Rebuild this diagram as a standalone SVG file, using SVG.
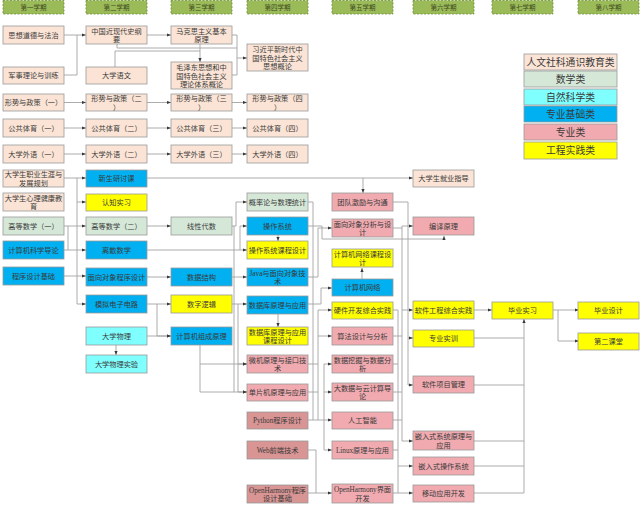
<svg xmlns="http://www.w3.org/2000/svg" width="640" height="505" viewBox="0 0 640 505">
<style>
text{font-family:"Liberation Serif","Noto Sans CJK SC",serif;fill:#3a3a3a;text-anchor:middle}
.n rect{stroke:#9a9a9a;stroke-width:0.8}
.n text{font-size:7.2px}
.hd rect{fill:#9bbb59;stroke:#6f8f3a;stroke-width:0.8;stroke-dasharray:2 1.5}
.hd text{font-size:6.5px;fill:#3d4a1e}
.lg rect{stroke:#9a9a9a;stroke-width:0.8}
.lg text{font-size:9.8px}
.pe{fill:#fbe4d5}.ma{fill:#d5e8d8}.cy{fill:#80ffff}.bl{fill:#00b0f0}.pk{fill:#f0aab0}.ro{fill:#d99594}.ye{fill:#ffff00}
#conn path{fill:none;stroke:#a3a3a3;stroke-width:0.9}
#conn path.a{marker-end:url(#ar)}
</style>
<defs>
<marker id="ar" markerWidth="4" markerHeight="4" refX="4" refY="2" orient="auto" markerUnits="userSpaceOnUse"><path d="M0,0.4 L4,2 L0,3.6 z" fill="#3a3a3a"/></marker>
</defs>
<rect width="640" height="505" fill="#ffffff"/>

<g id="headers" class="hd">
<g id="h1"><rect x="3" y="0.5" width="61" height="13.5"/><text x="33.5" y="9.5">第一学期</text></g>
<g id="h2"><rect x="86" y="0.5" width="61" height="13.5"/><text x="116.5" y="9.5">第二学期</text></g>
<g id="h3"><rect x="171" y="0.5" width="61" height="13.5"/><text x="201.5" y="9.5">第三学期</text></g>
<g id="h4"><rect x="247" y="0.5" width="61" height="13.5"/><text x="277.5" y="9.5">第四学期</text></g>
<g id="h5"><rect x="332" y="0.5" width="61" height="13.5"/><text x="362.5" y="9.5">第五学期</text></g>
<g id="h6"><rect x="413" y="0.5" width="61" height="13.5"/><text x="443.5" y="9.5">第六学期</text></g>
<g id="h7"><rect x="492" y="0.5" width="61" height="13.5"/><text x="522.5" y="9.5">第七学期</text></g>
<g id="h8"><rect x="578" y="0.5" width="61" height="13.5"/><text x="608.5" y="9.5">第八学期</text></g>
</g>

<g id="legend" class="lg">
<g id="lg1"><rect x="524" y="54" width="93" height="16" class="pe"/><text x="570.5" y="65.5">人文社科通识教育类</text></g>
<g id="lg2"><rect x="524" y="71" width="93" height="16" class="ma"/><text x="570.5" y="82.5">数学类</text></g>
<g id="lg3"><rect x="524" y="89" width="93" height="16" class="cy"/><text x="570.5" y="100.5">自然科学类</text></g>
<g id="lg4"><rect x="524" y="106" width="93" height="16" class="bl"/><text x="570.5" y="117.5">专业基础类</text></g>
<g id="lg5"><rect x="524" y="124" width="93" height="16" class="pk"/><text x="570.5" y="135.5">专业类</text></g>
<g id="lg6"><rect x="524" y="142" width="93" height="17" class="ye"/><text x="570.5" y="154">工程实践类</text></g>
</g>

<g id="conn">
<path class="a" d="M64,35 H86"/>
<path d="M64,75 H77 V35"/>
<path class="a" d="M146,35 H171"/>
<path d="M117,44 V48 H237"/>
<path d="M115,67 V51 H200"/>
<path class="a" d="M200,44 V62"/>
<path d="M231,35 H237 V75 H231"/>
<path class="a" d="M237,58 H247"/>
<path class="a" d="M64,102.5 H86"/><path class="a" d="M146,102.5 H171"/><path class="a" d="M231,102.5 H247"/>
<path class="a" d="M64,128 H86"/><path class="a" d="M146,128 H171"/><path class="a" d="M231,128 H247"/>
<path class="a" d="M64,154 H86"/><path class="a" d="M146,154 H171"/><path class="a" d="M231,154 H247"/>
<path d="M64,178 H77 V304"/>
<path class="a" d="M77,178 H86"/>
<path class="a" d="M77,202 H86"/>
<path class="a" d="M64,226 H86"/>
<path d="M68,226 V250"/>
<path class="a" d="M64,250 H86"/>
<path class="a" d="M64,276 H86"/>
<path class="a" d="M77,304 H86"/>
<path class="a" d="M146,178 H413"/>
<path class="a" d="M363,178 V193"/>
<path class="a" d="M146,226 H171"/>
<path class="a" d="M231,226 H236 V202 H247"/>
<path class="a" d="M146,250 H240 V226 H247"/>
<path class="a" d="M240,250 H247"/>
<path class="a" d="M278,235 V241"/>
<path class="a" d="M146,277 H171"/>
<path class="a" d="M231,277 H247"/>
<path class="a" d="M146,304 H171"/>
<path class="a" d="M157,304 V336 H171"/>
<path class="a" d="M146,336 H171"/>
<path class="a" d="M116,345 V355"/>
<path class="a" d="M231,304 H247"/>
<path d="M234,226 V392"/>
<path class="a" d="M238,304 V392 H247"/>
<path class="a" d="M238,364 H247"/>
<path class="a" d="M200,345 V392 H247"/>
<path class="a" d="M200,364 H247"/>
<path class="a" d="M278,314 V327"/>
<path d="M308,202 H313 V420"/>
<path class="a" d="M308,226 H322 V239 H444 V236"/>
<path class="a" d="M308,277 H318 V228 H332"/>
<path class="a" d="M308,304 H321 V288 H332"/>
<path class="a" d="M362,279 V268"/>
<path d="M308,364 H318"/><path d="M308,392 H318"/><path d="M318,310 V420"/>
<path class="a" d="M318,310 H332"/>
<path class="a" d="M318,336 H332"/>
<path class="a" d="M308,420 H332"/>
<path d="M324,364 V450"/>
<path class="a" d="M324,364 H332"/>
<path class="a" d="M324,392 H332"/>
<path class="a" d="M324,450 H332"/>
<path class="a" d="M308,450 H316 V493 H332"/>
<path d="M308,493 H316"/>
<path d="M393,202 H408 V385"/>
<path class="a" d="M408,338 H413"/>
<path class="a" d="M408,385 H413"/>
<path d="M393,228 H402"/><path d="M393,310 H398"/><path d="M393,336 H402"/><path d="M393,364 H398"/><path d="M393,392 H402"/><path d="M393,420 H402"/><path d="M393,450 H398"/>
<path d="M402,226 V441"/>
<path d="M398,310 V493"/>
<path class="a" d="M402,226 H413"/>
<path class="a" d="M402,310 H413"/>
<path class="a" d="M402,441 H413"/>
<path class="a" d="M398,466 H413"/>
<path class="a" d="M393,493 H413"/>
<path class="a" d="M474,310 H492"/>
<path d="M474,338 H524"/><path d="M474,385 H524"/><path d="M474,441 H524"/><path d="M474,466 H524"/><path d="M474,493 H524"/>
<path class="a" d="M524,493 V319"/>
<path class="a" d="M553,310 H579"/>
<path class="a" d="M558,310 V341 H579"/>
</g>

<g id="sxdd" class="n"><rect x="3" y="26" width="61" height="18" class="pe"/><text x="33.5" y="37.5">思想道德与法治</text></g>
<g id="jsll" class="n"><rect x="3" y="67" width="61" height="17" class="pe"/><text x="33.5" y="78">军事理论与训练</text></g>
<g id="zgjxd" class="n"><rect x="86" y="26" width="61" height="18" class="pe"/><text x="116.5" y="33.5">中国近现代史纲</text><text x="116.5" y="42">要</text></g>
<g id="dxyw" class="n"><rect x="86" y="67" width="61" height="17" class="pe"/><text x="116.5" y="78">大学语文</text></g>
<g id="mks" class="n"><rect x="171" y="26" width="61" height="18" class="pe"/><text x="201.5" y="33.5">马克思主义基本</text><text x="201.5" y="42">原理</text></g>
<g id="mzd" class="n"><rect x="171" y="62" width="61" height="27" class="pe"/><text x="201.5" y="70">毛泽东思想和中</text><text x="201.5" y="78.5">国特色社会主义</text><text x="201.5" y="87">理论体系概论</text></g>
<g id="xjp" class="n"><rect x="247" y="44" width="61" height="27" class="pe"/><text x="277.5" y="52">习近平新时代中</text><text x="277.5" y="60.5">国特色社会主义</text><text x="277.5" y="69">思想概论</text></g>

<g id="xs1" class="n"><rect x="3" y="94" width="61" height="17" class="pe"/><text x="33.5" y="105">形势与政策（一）</text></g>
<g id="xs2" class="n"><rect x="86" y="94" width="61" height="17" class="pe"/><text x="116.5" y="101">形势与政策（二</text><text x="116.5" y="109.5">）</text></g>
<g id="xs3" class="n"><rect x="171" y="94" width="61" height="17" class="pe"/><text x="201.5" y="101">形势与政策（三</text><text x="201.5" y="109.5">）</text></g>
<g id="xs4" class="n"><rect x="247" y="94" width="61" height="17" class="pe"/><text x="277.5" y="101">形势与政策（四</text><text x="277.5" y="109.5">）</text></g>

<g id="ty1" class="n"><rect x="3" y="119" width="61" height="18" class="pe"/><text x="33.5" y="130.5">公共体育（一）</text></g>
<g id="ty2" class="n"><rect x="86" y="119" width="61" height="18" class="pe"/><text x="116.5" y="130.5">公共体育（二）</text></g>
<g id="ty3" class="n"><rect x="171" y="119" width="61" height="18" class="pe"/><text x="201.5" y="130.5">公共体育（三）</text></g>
<g id="ty4" class="n"><rect x="247" y="119" width="61" height="18" class="pe"/><text x="277.5" y="130.5">公共体育（四）</text></g>

<g id="wy1" class="n"><rect x="3" y="145" width="61" height="18" class="pe"/><text x="33.5" y="156.5">大学外语（一）</text></g>
<g id="wy2" class="n"><rect x="86" y="145" width="61" height="18" class="pe"/><text x="116.5" y="156.5">大学外语（二）</text></g>
<g id="wy3" class="n"><rect x="171" y="145" width="61" height="18" class="pe"/><text x="201.5" y="156.5">大学外语（三）</text></g>
<g id="wy4" class="n"><rect x="247" y="145" width="61" height="18" class="pe"/><text x="277.5" y="156.5">大学外语（四）</text></g>

<g id="zysy" class="n"><rect x="3" y="170" width="61" height="17" class="pe"/><text x="33.5" y="177">大学生职业生涯与</text><text x="33.5" y="185.5">发展规划</text></g>
<g id="xljk" class="n"><rect x="3" y="193" width="61" height="18" class="pe"/><text x="33.5" y="200.5">大学生心理健康教</text><text x="33.5" y="209">育</text></g>
<g id="gs1" class="n"><rect x="3" y="217" width="61" height="18" class="ma"/><text x="33.5" y="228.5">高等数学（一）</text></g>
<g id="jsjdl" class="n"><rect x="3" y="241" width="61" height="18" class="bl"/><text x="33.5" y="252.5">计算机科学导论</text></g>
<g id="cxsj" class="n"><rect x="3" y="267" width="61" height="18" class="bl"/><text x="33.5" y="278.5">程序设计基础</text></g>

<g id="xsytk" class="n"><rect x="86" y="170" width="61" height="17" class="bl"/><text x="116.5" y="181">新生研讨课</text></g>
<g id="rzsx" class="n"><rect x="86" y="194" width="61" height="17" class="ye"/><text x="116.5" y="205">认知实习</text></g>
<g id="gs2" class="n"><rect x="86" y="217" width="61" height="18" class="ma"/><text x="116.5" y="228.5">高等数学（二）</text></g>
<g id="lsss" class="n"><rect x="86" y="241" width="61" height="18" class="bl"/><text x="116.5" y="252.5">离散数学</text></g>
<g id="mxdx" class="n"><rect x="86" y="268" width="61" height="18" class="bl"/><text x="116.5" y="279.5">面向对象程序设计</text></g>
<g id="mndz" class="n"><rect x="86" y="295" width="61" height="18" class="bl"/><text x="116.5" y="306.5">模拟电子电路</text></g>
<g id="dxwl" class="n"><rect x="86" y="327" width="61" height="18" class="cy"/><text x="116.5" y="338.5">大学物理</text></g>
<g id="dxwlsy" class="n"><rect x="86" y="355" width="61" height="18" class="cy"/><text x="116.5" y="366.5">大学物理实验</text></g>

<g id="xxds" class="n"><rect x="171" y="217" width="61" height="18" class="ma"/><text x="201.5" y="228.5">线性代数</text></g>
<g id="sjjg" class="n"><rect x="171" y="268" width="61" height="18" class="bl"/><text x="201.5" y="279.5">数据结构</text></g>
<g id="szlj" class="n"><rect x="171" y="295" width="61" height="18" class="ye"/><text x="201.5" y="306.5">数字逻辑</text></g>
<g id="jsjzc" class="n"><rect x="171" y="327" width="61" height="18" class="bl"/><text x="201.5" y="338.5">计算机组成原理</text></g>

<g id="gll" class="n"><rect x="247" y="193" width="61" height="18" class="ma"/><text x="277.5" y="204.5">概率论与数理统计</text></g>
<g id="czxt" class="n"><rect x="247" y="217" width="61" height="18" class="bl"/><text x="277.5" y="228.5">操作系统</text></g>
<g id="czxtkc" class="n"><rect x="247" y="241" width="61" height="18" class="ye"/><text x="277.5" y="252.5">操作系统课程设计</text></g>
<g id="java" class="n"><rect x="247" y="268" width="61" height="18" class="bl"/><text x="277.5" y="275.5">Java与面向对象技</text><text x="277.5" y="284">术</text></g>
<g id="sjk" class="n"><rect x="247" y="296" width="61" height="18" class="bl"/><text x="277.5" y="307.5">数据库原理与应用</text></g>
<g id="sjkkc" class="n"><rect x="247" y="327" width="61" height="18" class="ye"/><text x="277.5" y="334.5">数据库原理与应用</text><text x="277.5" y="343">课程设计</text></g>
<g id="wjyl" class="n"><rect x="247" y="355" width="61" height="18" class="pk"/><text x="277.5" y="362.5">微机原理与接口技</text><text x="277.5" y="371">术</text></g>
<g id="dpj" class="n"><rect x="247" y="384" width="61" height="17" class="pk"/><text x="277.5" y="395">单片机原理与应用</text></g>
<g id="python" class="n"><rect x="247" y="412" width="61" height="17" class="ro"/><text x="277.5" y="423">Python程序设计</text></g>
<g id="web" class="n"><rect x="247" y="441" width="61" height="18" class="ro"/><text x="277.5" y="452.5">Web前端技术</text></g>
<g id="ohbase" class="n"><rect x="247" y="485" width="61" height="18" class="ro"/><text x="277.5" y="492.5">OpenHarmony程序</text><text x="277.5" y="501">设计基础</text></g>

<g id="tdjl" class="n"><rect x="332" y="193" width="61" height="18" class="pk"/><text x="362.5" y="204.5">团队激励与沟通</text></g>
<g id="mxdxfx" class="n"><rect x="332" y="219" width="61" height="18" class="pk"/><text x="362.5" y="226.5">面向对象分析与设</text><text x="362.5" y="235">计</text></g>
<g id="wlkc" class="n"><rect x="332" y="249" width="61" height="18" class="ye"/><text x="362.5" y="256.5">计算机网络课程设</text><text x="362.5" y="265">计</text></g>
<g id="wl" class="n"><rect x="332" y="279" width="61" height="17" class="bl"/><text x="362.5" y="290">计算机网络</text></g>
<g id="yjkf" class="n"><rect x="332" y="302" width="61" height="17" class="ye"/><text x="362.5" y="313">硬件开发综合实践</text></g>
<g id="sfsj" class="n"><rect x="332" y="327" width="61" height="18" class="pk"/><text x="362.5" y="338.5">算法设计与分析</text></g>
<g id="sjwj" class="n"><rect x="332" y="355" width="61" height="18" class="pk"/><text x="362.5" y="362.5">数据挖掘与数据分</text><text x="362.5" y="371">析</text></g>
<g id="dsj" class="n"><rect x="332" y="383" width="61" height="18" class="pk"/><text x="362.5" y="390.5">大数据与云计算导</text><text x="362.5" y="399">论</text></g>
<g id="rgzn" class="n"><rect x="332" y="412" width="61" height="17" class="pk"/><text x="362.5" y="423">人工智能</text></g>
<g id="linux" class="n"><rect x="332" y="441" width="61" height="18" class="pk"/><text x="362.5" y="452.5">Linux原理与应用</text></g>
<g id="ohui" class="n"><rect x="332" y="484" width="61" height="19" class="pk"/><text x="362.5" y="492">OpenHarmony界面</text><text x="362.5" y="500.5">开发</text></g>

<g id="jyzd" class="n"><rect x="413" y="170" width="61" height="17" class="pe"/><text x="443.5" y="181">大学生就业指导</text></g>
<g id="bysl" class="n"><rect x="413" y="217" width="61" height="18" class="pk"/><text x="443.5" y="228.5">编译原理</text></g>
<g id="rjgc" class="n"><rect x="413" y="301" width="61" height="18" class="ye"/><text x="443.5" y="312.5">软件工程综合实践</text></g>
<g id="zysx" class="n"><rect x="413" y="330" width="61" height="17" class="ye"/><text x="443.5" y="341">专业实训</text></g>
<g id="rjxm" class="n"><rect x="413" y="376" width="61" height="17" class="pk"/><text x="443.5" y="387">软件项目管理</text></g>
<g id="qrs" class="n"><rect x="413" y="431" width="61" height="19" class="pk"/><text x="443.5" y="439">嵌入式系统原理与</text><text x="443.5" y="447.5">应用</text></g>
<g id="qrscz" class="n"><rect x="413" y="457" width="61" height="18" class="pk"/><text x="443.5" y="468.5">嵌入式操作系统</text></g>
<g id="ydyy" class="n"><rect x="413" y="485" width="61" height="17" class="pk"/><text x="443.5" y="496">移动应用开发</text></g>

<g id="bysx" class="n"><rect x="492" y="302" width="61" height="17" class="ye"/><text x="522.5" y="313">毕业实习</text></g>
<g id="bysj" class="n"><rect x="578" y="302" width="61" height="17" class="ye"/><text x="608.5" y="313">毕业设计</text></g>
<g id="dekt" class="n"><rect x="578" y="333" width="61" height="17" class="ye"/><text x="608.5" y="344">第二课堂</text></g>
</svg>
